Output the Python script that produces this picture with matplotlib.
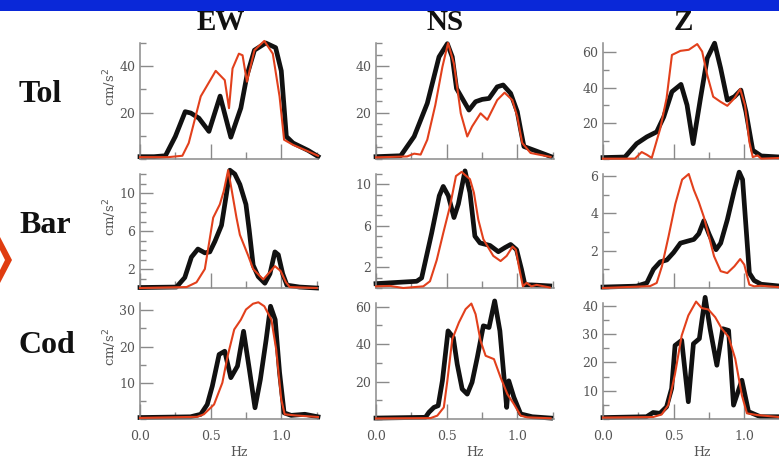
import matplotlib
matplotlib.use("Agg")
import matplotlib.pyplot as plt
from matplotlib.patches import Polygon, Rectangle
from matplotlib.ticker import FixedLocator, MultipleLocator

# ---------------- data ----------------
components = ["EW", "NS", "Z"]
sites = ["Tol", "Bar", "Cod"]
x_tick_labels = ["0.0", "0.5", "1.0"]

# Tol
ew_tol_fb = [0.0, 0.10, 0.18, 0.25, 0.32, 0.36, 0.417, 0.488, 0.567, 0.643, 0.714, 0.757, 0.81, 0.89, 0.96, 1.0, 1.036, 1.083, 1.19, 1.26]
ew_tol_b = [1.0, 1.0, 1.4, 9.7, 20.4, 19.8, 17.6, 11.9, 27.1, 9.4, 22.0, 36.0, 46.9, 50.0, 48.0, 38.0, 9.7, 6.9, 3.7, 1.1]
ew_tol_fr = [0.0, 0.20, 0.30, 0.345, 0.43, 0.536, 0.60, 0.63, 0.655, 0.70, 0.726, 0.757, 0.81, 0.88, 0.94, 0.988, 1.02, 1.083, 1.19, 1.26]
ew_tol_r = [0.8, 0.8, 1.4, 6.9, 27.0, 38.0, 34.0, 21.9, 39.0, 45.4, 44.7, 33.3, 46.9, 50.9, 45.4, 26.9, 8.3, 6.1, 3.3, 1.4]

ns_tol_fb = [0.0, 0.175, 0.27, 0.363, 0.446, 0.505, 0.54, 0.57, 0.658, 0.705, 0.752, 0.80, 0.858, 0.90, 0.953, 1.0, 1.024, 1.047, 1.14, 1.236]
ns_tol_b = [1.0, 1.4, 9.7, 24.0, 44.0, 49.7, 44.0, 30.4, 21.1, 24.7, 25.7, 26.1, 31.1, 31.9, 28.3, 20.4, 12.6, 5.4, 3.3, 1.1]
ns_tol_fr = [0.0, 0.22, 0.27, 0.316, 0.363, 0.42, 0.47, 0.51, 0.552, 0.60, 0.646, 0.68, 0.74, 0.788, 0.858, 0.91, 0.965, 1.0, 1.035, 1.094, 1.236]
ns_tol_r = [0.7, 1.1, 2.3, 1.9, 8.3, 23.3, 39.7, 50.0, 41.0, 19.7, 9.7, 14.0, 19.7, 16.9, 25.4, 28.6, 25.4, 18.3, 6.9, 2.6, 0.9]

z_tol_fb = [0.0, 0.155, 0.238, 0.31, 0.38, 0.43, 0.488, 0.552, 0.595, 0.638, 0.69, 0.738, 0.79, 0.833, 0.88, 0.93, 0.976, 1.012, 1.06, 1.12, 1.255]
z_tol_b = [0.8, 1.1, 8.6, 12.4, 15.2, 23.6, 37.7, 41.8, 30.2, 8.6, 34.0, 56.5, 64.9, 50.8, 33.0, 34.9, 38.6, 26.5, 4.9, 1.7, 1.1]
z_tol_fr = [0.0, 0.226, 0.274, 0.31, 0.345, 0.405, 0.45, 0.488, 0.548, 0.607, 0.667, 0.702, 0.738, 0.78, 0.833, 0.88, 0.93, 0.971, 1.005, 1.036, 1.06, 1.095, 1.12, 1.255]
z_tol_r = [0.2, 0.2, 3.9, 2.4, 0.6, 17.0, 34.0, 58.3, 60.6, 61.2, 64.4, 60.2, 47.0, 34.9, 32.0, 29.8, 34.0, 39.2, 30.2, 9.6, 1.1, 2.0, 0.2, 0.6]

# Bar
ew_bar_fb = [0.0, 0.258, 0.317, 0.364, 0.41, 0.459, 0.494, 0.53, 0.577, 0.612, 0.636, 0.671, 0.707, 0.75, 0.773, 0.801, 0.837, 0.884, 0.92, 0.955, 0.979, 1.01, 1.04, 1.13, 1.25]
ew_bar_b = [0.05, 0.1, 1.1, 3.25, 4.1, 3.7, 3.8, 4.9, 6.6, 9.9, 12.4, 12.0, 10.9, 8.8, 6.1, 2.4, 1.2, 0.5, 1.5, 3.8, 3.5, 1.5, 0.3, 0.1, 0.0]
ew_bar_fr = [0.0, 0.33, 0.40, 0.459, 0.494, 0.518, 0.565, 0.593, 0.624, 0.648, 0.683, 0.707, 0.766, 0.801, 0.872, 0.908, 0.955, 0.995, 1.033, 1.06, 1.25]
ew_bar_r = [0.0, 0.1, 0.6, 2.0, 5.2, 7.4, 8.8, 10.2, 12.4, 10.4, 7.4, 5.6, 3.4, 2.0, 0.9, 1.5, 2.3, 1.8, 0.6, 0.1, 0.0]

ns_bar_fb = [0.0, 0.288, 0.323, 0.394, 0.448, 0.476, 0.512, 0.552, 0.583, 0.63, 0.665, 0.70, 0.736, 0.807, 0.866, 0.913, 0.953, 0.995, 1.03, 1.054, 1.10, 1.23]
ns_bar_b = [0.42, 0.65, 0.97, 5.3, 8.9, 9.8, 8.9, 6.8, 8.1, 11.3, 9.2, 5.0, 4.35, 4.1, 3.5, 3.9, 4.2, 3.7, 1.8, 0.3, 0.3, 0.2]
ns_bar_fr = [0.0, 0.10, 0.193, 0.335, 0.382, 0.43, 0.476, 0.524, 0.566, 0.606, 0.665, 0.693, 0.724, 0.76, 0.83, 0.882, 0.925, 0.967, 0.99, 1.014, 1.04, 1.066, 1.10, 1.137, 1.23]
ns_bar_r = [0.16, 0.2, 0.0, 0.16, 0.65, 2.7, 5.3, 7.9, 10.8, 11.2, 10.5, 9.2, 6.6, 4.7, 3.1, 2.6, 3.1, 4.0, 3.7, 1.9, 0.16, 0.5, 0.16, 0.3, 0.05]

z_bar_fb = [0.0, 0.238, 0.31, 0.357, 0.405, 0.452, 0.50, 0.548, 0.595, 0.643, 0.678, 0.714, 0.75, 0.80, 0.833, 0.88, 0.93, 0.964, 0.988, 1.012, 1.036, 1.07, 1.12, 1.255]
z_bar_b = [0.05, 0.1, 0.27, 1.0, 1.4, 1.5, 1.9, 2.4, 2.5, 2.6, 2.9, 3.6, 2.9, 2.05, 2.4, 3.65, 5.25, 6.2, 5.8, 3.3, 0.8, 0.4, 0.2, 0.1]
z_bar_fr = [0.0, 0.333, 0.38, 0.417, 0.464, 0.512, 0.56, 0.607, 0.643, 0.678, 0.714, 0.75, 0.786, 0.833, 0.88, 0.93, 0.971, 1.0, 1.036, 1.07, 1.12, 1.255]
z_bar_r = [0.0, 0.1, 0.27, 1.16, 2.76, 4.5, 5.8, 6.1, 5.25, 4.6, 3.8, 2.76, 1.7, 0.9, 0.8, 1.16, 1.55, 1.25, 0.18, 0.09, 0.12, 0.04]

# Cod
ew_cod_fb = [0.0, 0.357, 0.43, 0.476, 0.512, 0.56, 0.60, 0.643, 0.69, 0.733, 0.774, 0.814, 0.852, 0.893, 0.924, 0.957, 0.988, 1.02, 1.07, 1.167, 1.26]
ew_cod_b = [0.4, 0.6, 1.3, 4.0, 9.1, 17.8, 18.7, 11.4, 14.6, 24.2, 13.7, 3.1, 10.9, 21.9, 31.1, 27.4, 12.8, 1.7, 1.0, 1.3, 0.6]
ew_cod_fr = [0.0, 0.405, 0.452, 0.524, 0.583, 0.62, 0.667, 0.714, 0.75, 0.80, 0.838, 0.88, 0.93, 0.964, 1.0, 1.024, 1.095, 1.26]
ew_cod_r = [0.3, 0.6, 1.3, 4.0, 10.0, 17.3, 24.7, 27.4, 30.2, 31.8, 32.2, 31.1, 27.4, 19.2, 5.4, 1.3, 1.0, 0.55]

ns_cod_fb = [0.0, 0.35, 0.375, 0.41, 0.44, 0.47, 0.51, 0.547, 0.575, 0.61, 0.646, 0.68, 0.717, 0.76, 0.80, 0.84, 0.877, 0.925, 0.94, 0.976, 1.024, 1.106, 1.236]
ns_cod_b = [0.5, 0.9, 3.6, 6.2, 7.1, 20.4, 47.1, 43.6, 29.3, 16.0, 13.3, 19.6, 32.9, 49.8, 48.9, 63.1, 47.1, 6.2, 20.4, 11.6, 2.7, 1.2, 0.5]
ns_cod_fr = [0.0, 0.387, 0.434, 0.48, 0.505, 0.54, 0.587, 0.634, 0.675, 0.705, 0.74, 0.776, 0.835, 0.882, 0.93, 0.976, 1.024, 1.07, 1.236]
ns_cod_r = [0.3, 0.5, 1.8, 6.2, 20.4, 42.7, 51.6, 58.7, 61.7, 56.0, 41.8, 33.8, 32.0, 22.2, 13.3, 8.0, 1.8, 0.9, 0.4]

z_cod_fb = [0.0, 0.308, 0.355, 0.403, 0.45, 0.486, 0.51, 0.557, 0.604, 0.64, 0.682, 0.723, 0.758, 0.806, 0.848, 0.889, 0.924, 0.983, 1.03, 1.114, 1.244]
z_cod_b = [0.5, 0.8, 2.3, 2.0, 4.3, 10.8, 26.0, 27.8, 6.1, 26.6, 28.4, 43.0, 31.9, 19.0, 31.9, 31.3, 4.9, 13.7, 2.6, 0.8, 0.8]
z_cod_fr = [0.0, 0.355, 0.415, 0.462, 0.51, 0.557, 0.604, 0.659, 0.699, 0.746, 0.794, 0.841, 0.889, 0.936, 0.983, 1.019, 1.09, 1.244]
z_cod_r = [0.5, 0.7, 1.6, 4.9, 16.0, 29.5, 36.6, 41.5, 39.2, 38.7, 36.0, 31.9, 29.0, 21.3, 8.4, 2.0, 1.4, 0.7]

# y axis: top limit, labelled ticks, minor step
y_tops = [[50, 50, 65], [12, 11, 6.1], [32, 62, 41]]
y_labels = [[[20, 40], [20, 40], [20, 40, 60]],
            [[2, 6, 10], [2, 6, 10], [2, 4, 6]],
            [[10, 20, 30], [20, 40, 60], [10, 20, 30, 40]]]
y_minor = [[10, 5, 10], [1, 1, 1], [5, 10, 5]]

series = [
    [(ew_tol_fb, ew_tol_b, ew_tol_fr, ew_tol_r), (ns_tol_fb, ns_tol_b, ns_tol_fr, ns_tol_r), (z_tol_fb, z_tol_b, z_tol_fr, z_tol_r)],
    [(ew_bar_fb, ew_bar_b, ew_bar_fr, ew_bar_r), (ns_bar_fb, ns_bar_b, ns_bar_fr, ns_bar_r), (z_bar_fb, z_bar_b, z_bar_fr, z_bar_r)],
    [(ew_cod_fb, ew_cod_b, ew_cod_fr, ew_cod_r), (ns_cod_fb, ns_cod_b, ns_cod_fr, ns_cod_r), (z_cod_fb, z_cod_b, z_cod_fr, z_cod_r)],
]

# ---------------- layout ----------------
W, H = 779, 459
fig = plt.figure(figsize=(W / 100, H / 100), dpi=100)
fig.patch.set_facecolor("white")

col_x0 = [140, 376, 603]
col_w = 178
row_top = [43, 174, 303]
row_bot = [159, 288, 419]

GRAY = "#8a8a8a"
LBL = "#555555"
RED = "#e2401c"
BLACK = "#111111"
serif_bold = ["Liberation Serif", "DejaVu Serif"]

for r in range(3):
    for c in range(3):
        rect = [col_x0[c] / W, 1 - row_bot[r] / H, col_w / W, (row_bot[r] - row_top[r]) / H]
        ax = fig.add_axes(rect)
        fb, b, fr, rr = series[r][c]
        ax.plot(fr, rr, color=RED, lw=1.5, clip_on=False, zorder=3, solid_joinstyle="round")
        ax.plot(fb, b, color=BLACK, lw=3.4, clip_on=False, zorder=2, solid_joinstyle="round")
        ax.set_xlim(0, 1.26)
        ax.set_ylim(0, y_tops[r][c])
        ax.set_facecolor("none")
        for s in ["top", "right"]:
            ax.spines[s].set_visible(False)
        for s in ["left", "bottom"]:
            ax.spines[s].set_color(GRAY)
            ax.spines[s].set_linewidth(1.1)
        ax.xaxis.set_major_locator(FixedLocator([0.0, 0.5, 1.0]))
        ax.xaxis.set_minor_locator(FixedLocator([0.25, 0.75, 1.25]))
        ax.yaxis.set_major_locator(FixedLocator(y_labels[r][c]))
        ax.yaxis.set_minor_locator(MultipleLocator(y_minor[r][c]))
        ax.tick_params(axis="x", which="major", direction="in", length=10.5, width=1.0, color=GRAY, pad=8,
                       labelsize=9, labelcolor=LBL)
        ax.tick_params(axis="x", which="minor", direction="in", length=5, width=1.0, color=GRAY)
        ax.tick_params(axis="y", which="major", direction="in", length=9.5, width=1.0, color=GRAY, pad=3.5,
                       labelsize=9, labelcolor=LBL)
        ax.tick_params(axis="y", which="minor", direction="in", length=4.5, width=1.0, color=GRAY)
        for lab in ax.get_xticklabels() + ax.get_yticklabels():
            lab.set_fontfamily("DejaVu Serif")
        if r == 2:
            ax.set_xticklabels(x_tick_labels)
            ax.text(0.7, -0.29, "Hz", transform=ax.get_xaxis_transform(), ha="center", va="center",
                    fontsize=9, color=LBL, family="DejaVu Serif")
        else:
            ax.set_xticklabels([])
        if c == 0:
            ax.text(-0.17, 0.62, "cm/s$^2$", transform=ax.transAxes, rotation=90, ha="center", va="center",
                    fontsize=9.5, color=LBL, family="DejaVu Serif")

# column headers
header_x = [221, 445, 683]
for name, hx in zip(components, header_x):
    fig.text(hx / W, 1 - 23 / H, name, ha="center", va="center", fontsize=21, fontweight="bold",
             family=serif_bold, color=BLACK)

# row labels
row_base = [102, 233, 353]
for name, yb in zip(sites, row_base):
    fig.text(19 / W, 1 - yb / H, name, ha="left", va="baseline", fontsize=23, fontweight="bold",
             family=serif_bold, color=BLACK)

# blue bar on top
fig.patches.append(Rectangle((0, 1 - 10.5 / H), 1, 10.5 / H, transform=fig.transFigure,
                             facecolor="#0a28d8", edgecolor="none", zorder=5))
# red arrow on left
fig.patches.append(Polygon([(0, 1 - 237 / H), (12 / W, 1 - 260 / H), (0, 1 - 283 / H)], closed=True,
                           transform=fig.transFigure, facecolor="#e03c10", edgecolor="none", zorder=5))
fig.patches.append(Polygon([(0, 1 - 250 / H), (5 / W, 1 - 260 / H), (0, 1 - 270 / H)], closed=True,
                           transform=fig.transFigure, facecolor="white", edgecolor="none", zorder=6))

fig.savefig("out.png", dpi=100)
